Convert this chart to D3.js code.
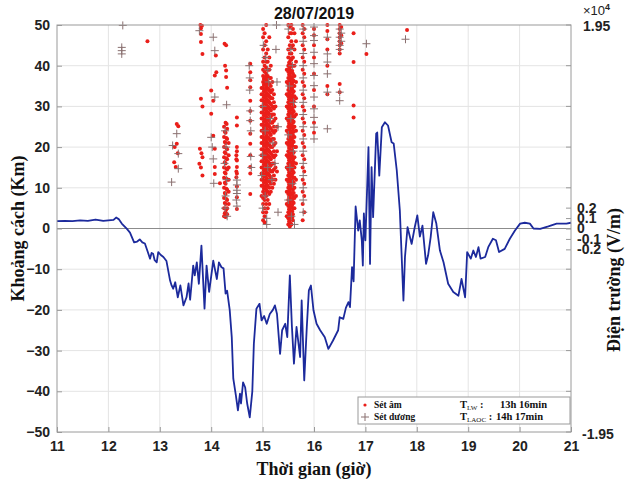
<!DOCTYPE html>
<html><head><meta charset="utf-8">
<script src="https://cdn.jsdelivr.net/npm/d3@7"></script>
<style>body{margin:0;background:#fff}</style></head>
<body><svg id="c" width="627" height="482"></svg>
<script>
const title = "28/07/2019";
const hourTicks = [11,12,13,14,15,16,17,18,19,20,21];
const kmTicks = [-50,-40,-30,-20,-10,0,10,20,30,40,50];
const fieldTicks = [-2000,-1000,0,1000,2000];
const fieldTickLabels = ["-0.2","-0.1","0","0.1","0.2"];
const fieldLimit = 19500;

// electric field (V/m) vs time (hour)
const fieldTime = [11.00,11.15,11.30,11.45,11.60,11.75,11.90,12.00,12.10,12.15,12.20,12.26,12.36,12.42,12.50,12.56,12.61,12.66,12.71,12.76,12.81,12.84,12.87,12.90,12.94,12.97,13.02,13.07,13.13,13.20,13.23,13.26,13.30,13.35,13.40,13.46,13.52,13.56,13.59,13.65,13.68,13.72,13.76,13.81,13.87,13.91,13.96,14.04,14.11,14.15,14.20,14.24,14.28,14.31,14.36,14.40,14.43,14.48,14.52,14.56,14.58,14.62,14.66,14.70,14.75,14.80,14.83,14.88,14.94,14.98,15.03,15.08,15.14,15.20,15.24,15.28,15.34,15.38,15.44,15.48,15.53,15.57,15.61,15.66,15.73,15.76,15.81,15.86,15.90,15.94,15.99,16.05,16.12,16.21,16.28,16.37,16.47,16.50,16.57,16.62,16.67,16.70,16.74,16.77,16.81,16.86,16.89,16.93,16.95,16.97,17.00,17.06,17.09,17.12,17.15,17.21,17.23,17.27,17.32,17.38,17.44,17.51,17.55,17.61,17.67,17.74,17.77,17.82,17.90,17.96,18.01,18.06,18.11,18.18,18.22,18.27,18.32,18.38,18.45,18.52,18.61,18.71,18.81,18.87,18.94,18.98,19.05,19.10,19.15,19.20,19.24,19.33,19.39,19.48,19.54,19.60,19.71,19.81,19.91,20.01,20.10,20.20,20.27,20.40,20.56,20.72,20.91,21.00];
const fieldVm = [700,740,700,780,740,860,740,780,820,1050,900,470,-40,-390,-1330,-1250,-1050,-1330,-1440,-2150,-2890,-2340,-2420,-3040,-3240,-2260,-2540,-2730,-3120,-4990,-5460,-5770,-5150,-6590,-5460,-7370,-6590,-5270,-6830,-3550,-4490,-3240,-5300,-1640,-7680,-3550,-6080,-3080,-4840,-3240,-3710,-3820,-6240,-5970,-7800,-10410,-14390,-15990,-17430,-15830,-16770,-14740,-15210,-16770,-18100,-15600,-11040,-7680,-7220,-8810,-8390,-9130,-8190,-7800,-7370,-8190,-12010,-9750,-9130,-10410,-4490,-9360,-12950,-9440,-12320,-6900,-14550,-9440,-5930,-5460,-7840,-9130,-9750,-10410,-11540,-10730,-9750,-8500,-8660,-7610,-7060,-7530,-3710,-5070,2110,-200,780,-1130,-3550,1440,-1130,7800,-3390,5890,1090,9090,9200,5070,9710,10180,9870,8270,8150,5580,1720,-6900,-2730,120,-1480,120,1250,-780,270,-3390,-2570,-820,1560,470,-2110,-3240,-5300,-6080,-6440,-4840,-6590,-2260,-2890,-2110,-2730,-1790,-2890,-2730,-1790,-980,-1130,-2260,-1950,-980,-200,470,550,470,0,-40,200,470,470,550];

// negative lightning (Sét âm): dense columns as [hour, [km...]] strips
const negStrips = [
 [14.25,[3,5,7.5,10,12.5,15,17.5,20,22.5,25]],
 [14.265,[3.75,6.25,8.75,11.25,13.75,16.25,18.75,21.25,23.75]],
 [14.28,[2.8,4,6,8.5,11,13.5,16,18.5,21,23.5,26]],
 [14.295,[4.75,7.25,9.75,12.25,14.75,17.25,19.75,22.25]],
 [14.31,[3.5,5,7,9.5,12,14.5,17,19.5,22,24.5]],
 [14.34,[6,9,12,15,18,21]],
 [14.50,[4.8,7.7,10.3,13.5,15.1,16.7,19,20,25.3,27.3]],
 [14.49,[12.6,14,17,18]],
 [14.76,[8.5,13.5,15.1,18,20.8,23.3,26.5,28.9,31.4,34.7,36.4,38.4,40.5]],
 [14.98,[8,10.5,12,13.5,15,16.5,18,19.5,21,22.5,24,25.5,27,28.5,30,31.5,33,34.5]],
 [15.01,[2,4,6,7.5,9,10.5,12,13.5,15,16.5,18,19.5,21,22.5,24,25.5,27,28.5,30,31.5,33,34.5,36,37.5,39,41,44,47,49]],
 [15.025,[9.75,11.25,12.75,14.25,15.75,17.25,18.75,20.25,21.75,23.25,24.75,26.25,27.75,29.25,30.75,32.25,33.75,35.25,36.75]],
 [15.04,[1.5,3,5,7,8.5,10,11.5,13,14.5,16,17.5,19,20.5,22,23.5,25,26.5,28,29.5,31,32.5,34,35.5,37,38.5,40,42,45,48]],
 [15.055,[8.75,10.25,11.75,13.25,14.75,16.25,17.75,19.25,20.75,22.25,23.75,25.25,26.75,28.25,29.75,31.25,32.75,34.25,35.75,37.25]],
 [15.07,[4,6,8,9.5,11,12.5,14,15.5,17,18.5,20,21.5,23,24.5,26,27.5,29,30.5,32,33.5,35,36.5,38,39.5,41,43,46,50]],
 [15.085,[10.25,11.75,13.25,14.75,16.25,17.75,19.25,20.75,22.25,23.75,25.25,26.75,28.25,29.75,31.25,32.75,34.25,35.75,37.25]],
 [15.10,[5,7,9,10.5,12,13.5,15,16.5,18,19.5,21,22.5,24,25.5,27,28.5,30,31.5,33,34.5,36,37.5,39,41,44]],
 [15.115,[11.75,13.25,14.75,16.25,17.75,19.25,20.75,22.25,23.75,25.25,26.75,28.25,29.75,31.25,32.75,34.25,35.75]],
 [15.13,[6,8.5,10,11.5,13,14.5,16,17.5,19,20.5,22,23.5,25,26.5,28,29.5,31,32.5,34,35.5,37,39,42,47]],
 [15.145,[12.75,14.25,15.75,17.25,18.75,20.25,21.75,23.25,24.75,26.25,27.75,29.25,30.75,32.25,33.75]],
 [15.16,[9,11,12.5,14,15.5,17,18.5,20,21.5,23,24.5,26,27.5,29,30.5,32,33.5,35,37,40]],
 [15.19,[10,12,14,16,18,20,22,24,26,28,30,32,34,36]],
 [15.22,[11,13,14.5,16,17.5,19,20.5,22,23.5,25,26.5,28,29.5,31,33]],
 [15.25,[12,15,18,21,24,27,30]],
 [15.28,[14,19,25]],
 [15.47,[3,6,9,12,15,18,21,24,27,30,33,36,39]],
 [15.50,[1,2.5,4,5.5,7,8.5,10,11.5,13,14.5,16,17.5,19,20.5,22,23.5,25,26.5,28,29.5,31,32.5,34,35.5,37,38.5,40,42,44,47,50]],
 [15.515,[1.75,3.25,4.75,6.25,7.75,9.25,10.75,12.25,13.75,15.25,16.75,18.25,19.75,21.25,22.75,24.25,25.75,27.25,28.75,30.25,31.75,33.25,34.75,36.25,37.75,39.25,40.75]],
 [15.53,[0.5,2,3.5,5,6.5,8,9.5,11,12.5,14,15.5,17,18.5,20,21.5,23,24.5,26,27.5,29,30.5,32,33.5,35,36.5,38,39.5,41,43,45,48,49.5]],
 [15.545,[1.25,2.75,4.25,5.75,7.25,8.75,10.25,11.75,13.25,14.75,16.25,17.75,19.25,20.75,22.25,23.75,25.25,26.75,28.25,29.75,31.25,32.75,34.25,35.75,37.25,38.75,40.25,41.75]],
 [15.56,[1,2.5,4,5.5,7,8.5,10,11.5,13,14.5,16,17.5,19,20.5,22,23.5,25,26.5,28,29.5,31,32.5,34,35.5,37,38.5,40,41.5,43,44.5,46,48,50]],
 [15.575,[2.75,4.25,5.75,7.25,8.75,10.25,11.75,13.25,14.75,16.25,17.75,19.25,20.75,22.25,23.75,25.25,26.75,28.25,29.75,31.25,32.75,34.25,35.75,37.25,38.75]],
 [15.59,[2,3.5,5,6.5,8,9.5,11,12.5,14,15.5,17,18.5,20,21.5,23,24.5,26,27.5,29,30.5,32,33.5,35,36.5,38,40,42,45,49]],
 [15.605,[6.25,8.75,11.25,13.75,16.25,18.75,21.25,23.75,26.25,28.75,31.25,33.75,36.25]],
 [15.62,[5,7.5,10,12.5,15,17.5,20,22.5,25,27.5,30,32.5,35,37.5,40,44,48]],
 [15.65,[8,12,16,20,24,28,32,36,41,46]],
 [15.78,[2,6,9,12,15,18,21,24,27,30,33,36,39,42,45,48,50]],
 [15.81,[4,8,11,14,17,20,23,26,29,32,35,38,41,44,47,49]],
 [16.00,[23.5,26,30,34,38,42,45,47.5,49]],
 [16.26,[33,35,40,44,46.5,48.5,50]],
 [16.50,[33.5,35.5,43,44,45,46,47,48,49,50]],
 [16.53,[45.5,47.5,49.5]]
];
// negative lightning: isolated strokes [hour, km]
const negPoints = [
 [12.76,46],[13.33,25.7],[13.36,25.1],[13.33,20.8],[13.29,20],[13.28,16.3],[13.31,15.1],[13.35,18.5],
 [13.79,50],[13.80,49.2],[13.82,49.8],[13.80,47.8],[13.80,45.8],[13.83,42.9],[13.80,31.9],[13.83,30],
 [13.78,19.6],[13.81,18.5],[13.83,17.5],[13.77,15.9],[13.80,15],[13.83,13],
 [14.09,42.5],[14.00,33.9],[14.04,31.4],[14.00,28.2],[14.07,37.6],[14.10,38.4],[14.04,22.8],[14.07,19.6],
 [14.07,15.1],[14.07,13.4],[14.17,11.1],
 [14.26,45.4],[14.29,45],[14.27,40],[14.29,38.8],[14.29,37.2],[14.31,34.6],[14.30,25.7],
 [16.77,48],[16.77,40.9],[16.77,30.2],[16.77,27.3],[17.02,42.9],[17.81,48.8]
];
// positive lightning (Sét dương) [hour, km]
const posPoints = [
 [12.28,49.9],[12.26,44.5],[12.26,43.7],[12.26,42.9],
 [13.33,23.3],[13.23,11.4],[13.36,18.4],[13.36,14.7],[13.25,20.4],
 [13.77,48.6],
 [14.04,47],[14.07,43.7],[14.07,32.3],[14.00,22.4],[14.02,20],[14.04,17.1],[14.05,11.1],[14.30,30.4],
 [14.27,24],[14.29,20],[14.26,16],[14.30,12],[14.28,8],[14.27,5],[14.31,3],
 [14.50,11.9],[14.50,10.7],[14.50,9.4],[14.50,8.6],[14.49,7],[14.50,5.5],
 [14.74,40],[14.75,37],[14.75,34],[14.76,28.9],[14.76,26.5],[14.77,24],[14.77,17.7],[14.78,15],
 [15.02,45],[15.06,42],[15.10,39],[15.12,36],[15.00,30],[15.15,27],[15.05,24],[15.20,21],[15.00,18],
 [15.10,15],[15.18,12],[15.05,8],[15.00,5],[15.08,2.5],[15.27,50],[15.26,44],[15.28,36],[15.30,25],
 [14.98,13],[15.24,16],[15.30,4],[15.08,1],
 [15.50,49],[15.55,44],[15.58,40],[15.52,35],[15.60,31],[15.55,27],[15.50,23],[15.60,19],[15.53,15],
 [15.58,11],[15.50,7],[15.56,3],[15.62,1],
 [15.79,49],[15.79,46],[15.79,43],[15.79,40],[15.79,37],[15.79,34],[15.79,31],[15.79,28],[15.79,25],
 [15.79,22],[15.79,19],[15.79,16],[15.79,13],[15.79,10],[15.79,7],[15.79,4],
 [16.00,49.5],[16.00,47.4],[16.00,46.2],[16.00,43.3],[16.00,40.5],[16.00,37.6],[16.00,35.1],[16.00,32.3],
 [16.00,29.4],[16.00,27.3],[16.00,24.9],[16.00,22],
 [16.26,47],[16.26,42.9],[16.26,40.9],[16.26,38],[16.26,33.5],[16.26,24.5],
 [16.50,49],[16.50,47],[16.50,45],[16.50,44],[16.50,33.5],[16.50,31.4],[16.53,48],[16.53,46],
 [17.02,45.4],[17.78,46.5]
];
const legendRows = [
 {label:"Sét âm", tSub:"LW", sep:" :", value:"13h 16min"},
 {label:"Sét dương", tSub:"LAOC", sep:" :", value:"14h 17min"}
];

const svg = d3.select("#c");
const L = 57, R = 571, T = 25, B = 432;
const x = d3.scaleLinear().domain([11,21]).range([L,R]);
const y = d3.scaleLinear().domain([-50,50]).range([B,T]);
const yR = d3.scaleLinear().domain([-fieldLimit,fieldLimit]).range([B,T]);
const sans = "'Liberation Sans', Arial, sans-serif";
const serif = "'Liberation Serif', 'Times New Roman', serif";

// grid
const g = svg.append("g");
g.selectAll(".gx").data(hourTicks.slice(1,-1)).join("line")
  .attr("x1",d=>x(d)).attr("x2",d=>x(d)).attr("y1",T).attr("y2",B)
  .attr("stroke","#e4e4e4").attr("stroke-width",1);
g.selectAll(".gy").data(kmTicks.slice(1,-1)).join("line")
  .attr("x1",L).attr("x2",R).attr("y1",d=>y(d)).attr("y2",d=>y(d))
  .attr("stroke","#e4e4e4").attr("stroke-width",1);

// zero line
svg.append("line").attr("x1",L).attr("x2",R).attr("y1",yR(0)).attr("y2",yR(0))
  .attr("stroke","#8c8c8c").attr("stroke-width",1.2);

// negative strokes
const negAll = negPoints.concat(negStrips.flatMap(([h,ys])=>ys.map(v=>[h,v])));
svg.append("g").selectAll("circle").data(negAll).join("circle")
  .attr("cx",d=>x(d[0])).attr("cy",d=>y(d[1])).attr("r",2)
  .attr("fill","#ea1f1a");

// positive strokes
svg.append("g").selectAll("path").data(posPoints).join("path")
  .attr("d",d=>{const cx=x(d[0]),cy=y(d[1]);return `M${cx-4},${cy}H${cx+4}M${cx},${cy-4}V${cy+4}`;})
  .attr("stroke","#8a7070").attr("stroke-width",1).attr("fill","none");

// field line
const line = d3.line().x((d,i)=>x(fieldTime[i])).y(d=>yR(d));
svg.append("path").datum(fieldVm).attr("d",line)
  .attr("fill","none").attr("stroke","#1c2a9c").attr("stroke-width",1.8).attr("stroke-linejoin","round");

// frame
svg.append("rect").attr("x",L).attr("y",T).attr("width",R-L).attr("height",B-T)
  .attr("fill","none").attr("stroke","#9a9a9a").attr("stroke-width",1);

// left axis
const ya = d3.axisLeft(y).tickValues(kmTicks).tickSize(-5).tickPadding(7);
const gy = svg.append("g").attr("transform",`translate(${L},0)`).call(ya);
gy.select(".domain").remove();
gy.selectAll(".tick line").attr("stroke","#9a9a9a");
gy.selectAll("text").attr("font-family",sans).attr("font-weight","bold").attr("font-size",14).attr("fill","#222");

// bottom axis
const xa = d3.axisBottom(x).tickValues(hourTicks).tickSize(-5).tickPadding(9);
const gx = svg.append("g").attr("transform",`translate(0,${B})`).call(xa);
gx.select(".domain").remove();
gx.selectAll(".tick line").attr("stroke","#9a9a9a");
gx.selectAll("text").attr("font-family",sans).attr("font-weight","bold").attr("font-size",14).attr("fill","#222");

// right axis: small ticks at left grid rows + field ticks
svg.append("g").selectAll("line").data(kmTicks).join("line")
  .attr("x1",R-5).attr("x2",R).attr("y1",d=>y(d)).attr("y2",d=>y(d)).attr("stroke","#9a9a9a");
const ra = d3.axisRight(yR).tickValues(fieldTicks).tickSize(-5).tickPadding(6)
  .tickFormat((d,i)=>fieldTickLabels[i]);
const gr = svg.append("g").attr("transform",`translate(${R},0)`).call(ra);
gr.select(".domain").remove();
gr.selectAll(".tick line").attr("stroke","#9a9a9a");
gr.selectAll("text").attr("font-family",sans).attr("font-weight","bold").attr("font-size",14).attr("fill","#222");
svg.append("text").attr("x",R+12).attr("y",yR(fieldLimit)+6).text("1.95")
  .attr("font-family",sans).attr("font-weight","bold").attr("font-size",14).attr("fill","#222");
svg.append("text").attr("x",R+11).attr("y",yR(-fieldLimit)+7).text("-1.95")
  .attr("font-family",sans).attr("font-weight","bold").attr("font-size",14).attr("fill","#222");
const ex = svg.append("text").attr("x",R+12).attr("y",15)
  .attr("font-family",sans).attr("font-weight","bold").attr("font-size",13).attr("fill","#222");
ex.append("tspan").text("×10").attr("font-weight","normal");
ex.append("tspan").text("4").attr("font-size",9).attr("dy",-5);

// title
svg.append("text").attr("x",(L+R)/2).attr("y",19).attr("text-anchor","middle").text(title)
  .attr("font-family",sans).attr("font-weight","bold").attr("font-size",16).attr("fill","#111");

// axis labels
svg.append("text").attr("x",(L+R)/2).attr("y",475).attr("text-anchor","middle").text("Thời gian (giờ)")
  .attr("font-family",serif).attr("font-weight","bold").attr("font-size",18).attr("fill","#111");
svg.append("text").attr("transform",`translate(24,${(T+B)/2}) rotate(-90)`).attr("text-anchor","middle")
  .text("Khoảng cách (Km)").attr("font-family",serif).attr("font-weight","bold").attr("font-size",18).attr("fill","#111");
svg.append("text").attr("transform",`translate(620,280) rotate(-90)`).attr("text-anchor","middle")
  .text("Điện trường (V/m)").attr("font-family",serif).attr("font-weight","bold").attr("font-size",18).attr("fill","#111");

// legend
const lg = svg.append("g");
lg.append("rect").attr("x",358).attr("y",397).attr("width",212).attr("height",27)
  .attr("fill","#fff").attr("stroke","#9a9a9a");
legendRows.forEach((r,i)=>{
  const cy = 405 + i*12;
  if(i===0){ lg.append("circle").attr("cx",365).attr("cy",cy).attr("r",1.6).attr("fill","#ea1f1a"); }
  else { lg.append("path").attr("d",`M361,${cy}H369M365,${cy-4}V${cy+4}`).attr("stroke","#8a7070"); }
  lg.append("text").attr("x",374).attr("y",cy+3).text(r.label)
    .attr("font-family",serif).attr("font-weight","bold").attr("font-size",9.5).attr("fill","#111");
  const t = lg.append("text").attr("x",460).attr("y",cy+3)
    .attr("font-family",serif).attr("font-weight","bold").attr("font-size",10.5).attr("fill","#111");
  t.append("tspan").text("T");
  t.append("tspan").text(r.tSub).attr("font-size",7).attr("dy",2).attr("font-weight","normal");
  t.append("tspan").text(r.sep).attr("dy",-2);
  lg.append("text").attr("x",i===0?500:496).attr("y",cy+3).text(r.value)
    .attr("font-family",serif).attr("font-weight","bold").attr("font-size",10.5).attr("fill","#111");
});
</script></body></html>
